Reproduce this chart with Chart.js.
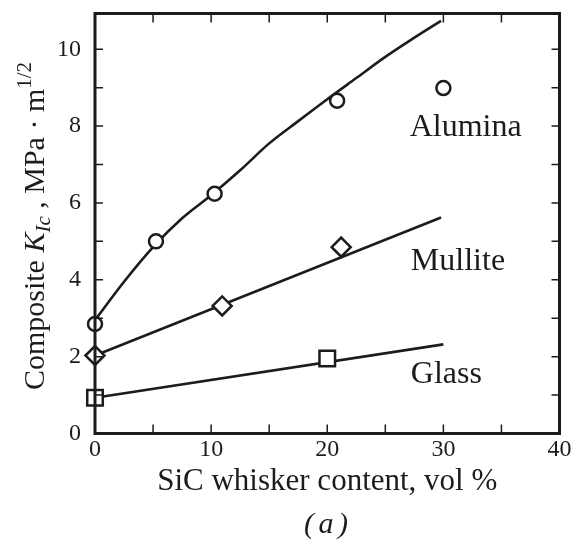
<!DOCTYPE html>
<html>
<head>
<meta charset="utf-8">
<script src="https://cdn.jsdelivr.net/npm/chart.js@4.4.0/dist/chart.umd.min.js"></script>
<style>
  html, body { margin: 0; padding: 0; background: #fff; }
</style>
</head>
<body>
<canvas id="myChart" width="576" height="540"></canvas>
<script>
// measured points
var aluminaX = [0, 5.25, 10.3, 20.85, 30];
var aluminaY = [2.85, 5.0, 6.24, 8.66, 8.99];
var mulliteX = [0, 10.95, 21.2];
var mulliteY = [2.03, 3.32, 4.85];
var glassX = [0, 20];
var glassY = [0.93, 1.95];

// fitted curves
var aluminaFitX = [0, 2.5, 5, 7.5, 10, 12.5, 15, 17.5, 20, 22.5, 25, 27.5, 29.8];
var aluminaFitY = [2.95, 3.95, 4.85, 5.6, 6.2, 6.85, 7.55, 8.13, 8.7, 9.25, 9.8, 10.3, 10.74];
var mulliteFitX = [0, 29.8];
var mulliteFitY = [2.03, 5.62];
var glassFitX = [0, 30];
var glassFitY = [0.93, 2.32];

var xTicks = [0, 10, 20, 30, 40];
var yTicks = [0, 2, 4, 6, 8, 10];

var ink = '#1c1c1c';
var serif = '"Liberation Serif", "Times New Roman", serif';

function pairs(xs, ys) {
    return xs.map(function (v, i) { return { x: v, y: ys[i] }; });
}

function markers(xs, ys, style, r) {
    return {
        data: pairs(xs, ys),
        showLine: false,
        pointStyle: style,
        pointRadius: r,
        pointBorderWidth: 2.5,
        pointBorderColor: ink,
        pointBackgroundColor: '#fff',
        clip: false
    };
}

function fitLine(xs, ys) {
    return {
        data: pairs(xs, ys),
        showLine: true,
        borderColor: ink,
        borderWidth: 2.6,
        pointRadius: 0,
        cubicInterpolationMode: 'monotone',
        clip: false
    };
}

// frame, inward ticks, curve labels and axis titles
var framePlugin = {
    id: 'frame',
    afterDatasetsDraw: function (chart) {
        var ctx = chart.ctx;
        var a = chart.chartArea;
        var sx = chart.scales.x, sy = chart.scales.y;
        ctx.save();
        ctx.strokeStyle = ink;
        ctx.lineWidth = 3;
        ctx.strokeRect(a.left, a.top, a.right - a.left, a.bottom - a.top);

        ctx.lineWidth = 1.5;
        ctx.beginPath();
        for (var v = 0; v <= 10; v++) {
            var py = sy.getPixelForValue(v);
            ctx.moveTo(a.left, py); ctx.lineTo(a.left + 8, py);
            ctx.moveTo(a.right, py); ctx.lineTo(a.right - 8, py);
        }
        for (var u = 5; u < 40; u += 5) {
            var px = sx.getPixelForValue(u);
            ctx.moveTo(px, a.bottom); ctx.lineTo(px, a.bottom - 9);
            ctx.moveTo(px, a.top); ctx.lineTo(px, a.top + 9);
        }
        ctx.stroke();

        ctx.fillStyle = ink;
        ctx.font = '32px ' + serif;
        ctx.textAlign = 'left';
        ctx.textBaseline = 'alphabetic';
        ctx.fillText('Alumina', sx.getPixelForValue(27.1), sy.getPixelForValue(7.75));
        ctx.fillText('Mullite', sx.getPixelForValue(27.2), sy.getPixelForValue(4.25));
        ctx.fillText('Glass', sx.getPixelForValue(27.2), sy.getPixelForValue(1.31));

        ctx.textAlign = 'center';
        ctx.font = '31px ' + serif;
        ctx.fillText('SiC whisker content, vol %', (a.left + a.right) / 2, 490);
        ctx.font = 'italic 30px ' + serif;
        ctx.fillText('(', 309, 533);
        ctx.fillText('a', 326, 533);
        ctx.fillText(')', 343, 533);

        // rotated y title with sub/superscripts
        var parts = [
            { t: 'Composite ', f: '30px ' + serif, dy: 0 },
            { t: 'K', f: 'italic 30px ' + serif, dy: 0 },
            { t: 'Ic', f: 'italic 21px ' + serif, dy: 6 },
            { t: ' , MPa \u00b7 m', f: '30px ' + serif, dy: 0 },
            { t: '1/2', f: '21px ' + serif, dy: -13 }
        ];
        var total = 0;
        parts.forEach(function (p) { ctx.font = p.f; p.w = ctx.measureText(p.t).width; total += p.w; });
        ctx.translate(44, 226);
        ctx.rotate(-Math.PI / 2);
        ctx.textAlign = 'left';
        var cx = -total / 2;
        parts.forEach(function (p) {
            ctx.font = p.f;
            ctx.fillText(p.t, cx, p.dy);
            cx += p.w;
        });
        ctx.restore();
    }
};

var ctx = document.getElementById('myChart');
var myChart = new Chart(ctx, {
    type: 'scatter',
    data: {
        datasets: [
            markers(aluminaX, aluminaY, 'circle', 7),
            markers(mulliteX, mulliteY, 'rectRot', 9.5),
            markers(glassX, glassY, 'rect', 11),
            fitLine(aluminaFitX, aluminaFitY),
            fitLine(mulliteFitX, mulliteFitY),
            fitLine(glassFitX, glassFitY)
        ]
    },
    options: {
        responsive: false,
        animation: false,
        devicePixelRatio: 1,
        layout: { padding: { top: 13, right: 16.5, left: 0, bottom: 0 } },
        plugins: {
            legend: { display: false },
            tooltip: { enabled: false }
        },
        scales: {
            x: {
                type: 'linear',
                min: 0,
                max: 40,
                afterBuildTicks: function (scale) {
                    scale.ticks = xTicks.map(function (v) { return { value: v }; });
                },
                afterFit: function (scale) {
                    scale.height = 106.5;
                    scale.paddingLeft = 0;
                    scale.paddingRight = 0;
                },
                grid: { display: false, drawTicks: false },
                border: { display: false },
                ticks: {
                    color: ink,
                    padding: 2,
                    maxRotation: 0,
                    font: { family: serif, size: 24 }
                }
            },
            y: {
                type: 'linear',
                min: 0,
                max: 10.93,
                afterBuildTicks: function (scale) {
                    scale.ticks = yTicks.map(function (v) { return { value: v }; });
                },
                afterFit: function (scale) {
                    scale.width = 95;
                    scale.paddingTop = 0;
                    scale.paddingBottom = 0;
                },
                grid: { display: false, drawTicks: false },
                border: { display: false },
                ticks: {
                    color: ink,
                    padding: 14,
                    font: { family: serif, size: 24 }
                }
            }
        }
    },
    plugins: [framePlugin]
});
</script>
</body>
</html>
